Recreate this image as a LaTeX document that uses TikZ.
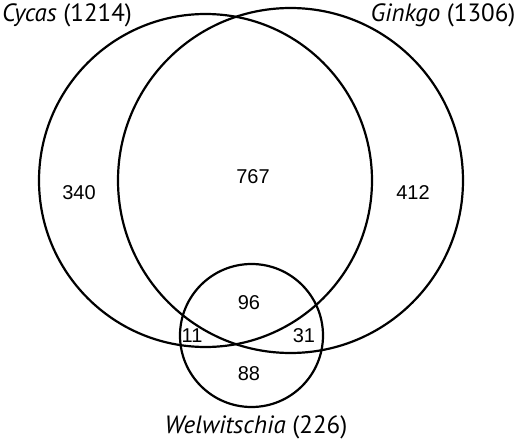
\documentclass[tikz,border=0pt]{standalone}
\usepackage{fontspec}
\setmainfont{Liberation Sans}
\newfontfamily\labelfont{PT Sans}
\usepackage{tikz}

\begin{document}
\begin{tikzpicture}[x=1pt,y=-1pt,
  set/.style={circle,draw,line width=2.2pt,minimum size=#1,inner sep=0pt},
  num/.style={font=\fontsize{20}{24}\selectfont,inner sep=0pt},
  lbl/.style={font=\labelfont\fontsize{25}{30}\selectfont,inner sep=0pt}]
\useasboundingbox (0,0) rectangle (520,439);
% the three sets
\node[set=333] (cycas) at (205.5,180.5) {};
\node[set=345] (ginkgo) at (290.5,180.5) {};
\node[set=143] (welw) at (251.5,335.5) {};
% set names
\node[lbl] (cycaslbl) at (67,15) {\textit{Cycas} (1214)};
\node[lbl] (ginkgolbl) at (443,15) {\textit{Ginkgo} (1306)};
\node[lbl] (welwlbl) at (256,427) {\textit{Welwitschia} (226)};
% counts
\node[num] (n340) at (79,193) {340};
\node[num] (n767) at (253,177) {767};
\node[num] (n412) at (413,193) {412};
\node[num] (n96) at (249,303) {96};
\node[num] (n11) at (192,336) {11};
\node[num] (n31) at (304,336) {31};
\node[num] (n88) at (249,374) {88};
\end{tikzpicture}
\end{document}
